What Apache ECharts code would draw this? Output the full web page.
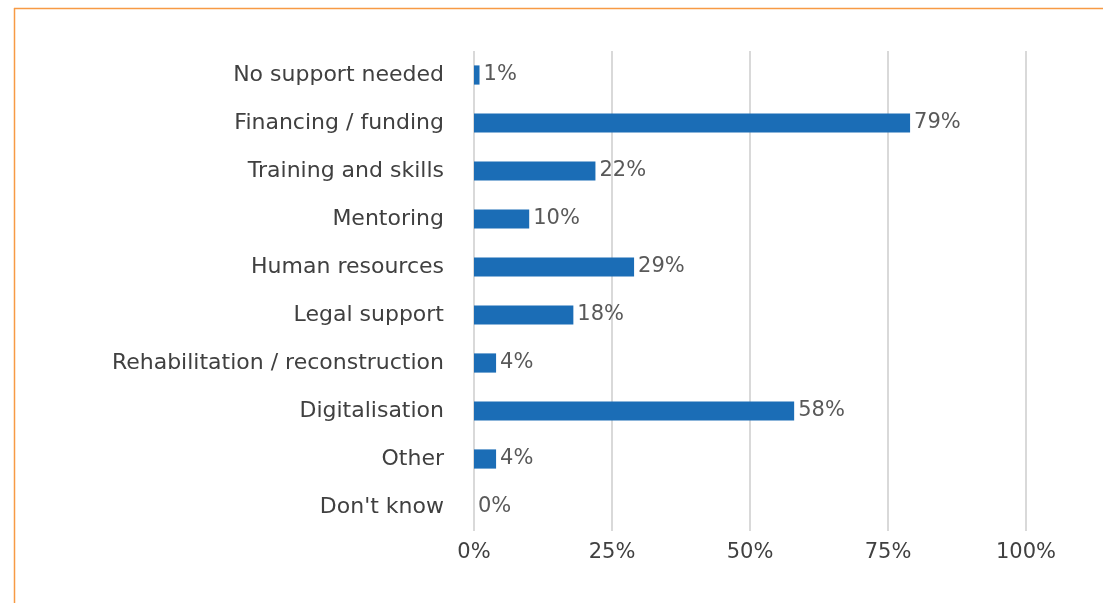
<!DOCTYPE html>
<html>
<head>
<meta charset="utf-8">
<script src="https://cdn.jsdelivr.net/npm/echarts@6/dist/echarts.min.js"></script>
<style>
  html, body { margin: 0; padding: 0; background: #fff; }
  #chart { width: 1103px; height: 603px; }
</style>
</head>
<body>
<div id="chart"></div>
<script>
// Support types needed, share of respondents (%)
const categories = [
  'No support needed',
  'Financing / funding',
  'Training and skills',
  'Mentoring',
  'Human resources',
  'Legal support',
  'Rehabilitation / reconstruction',
  'Digitalisation',
  'Other',
  "Don't know"
];
const shares = [1, 79, 22, 10, 29, 18, 4, 58, 4, 0];
const tickValues = [0, 25, 50, 75, 100];

const FONT = '"DejaVu Sans", sans-serif';
const chart = echarts.init(document.getElementById('chart'), null, { renderer: 'canvas' });

chart.setOption({
  animation: false,
  backgroundColor: '#ffffff',
  graphic: [
    // orange frame edges (top and left)
    { type: 'line', shape: { x1: 14, y1: 8.5, x2: 1103, y2: 8.5 }, style: { stroke: '#f79a44', lineWidth: 1.5 } },
    { type: 'line', shape: { x1: 14.5, y1: 8, x2: 14.5, y2: 603 }, style: { stroke: '#f79a44', lineWidth: 1.5 } }
  ],
  grid: { left: 474, right: 77, top: 51, bottom: 72, containLabel: false },
  xAxis: {
    type: 'value',
    min: 0,
    max: 100,
    interval: 25,
    axisLine: { show: false },
    axisTick: { show: false },
    splitLine: { show: true, lineStyle: { color: '#d9d9d9', width: 2 } },
    axisLabel: {
      color: '#404040',
      fontFamily: FONT,
      fontSize: 21,
      margin: 11,
      formatter: v => tickValues.includes(v) ? v + '%' : ''
    }
  },
  yAxis: {
    type: 'category',
    data: categories,
    inverse: true,
    axisLine: { show: false },
    axisTick: { show: false },
    axisLabel: {
      color: '#404040',
      fontFamily: FONT,
      fontSize: 22,
      margin: 30
    }
  },
  series: [{
    type: 'bar',
    data: shares,
    barWidth: '40%',
    itemStyle: { color: '#1b6db6' },
    label: {
      show: true,
      position: 'right',
      distance: 4,
      color: '#595959',
      fontFamily: FONT,
      fontSize: 21,
      formatter: p => p.value + '%'
    }
  }]
});
</script>
</body>
</html>
